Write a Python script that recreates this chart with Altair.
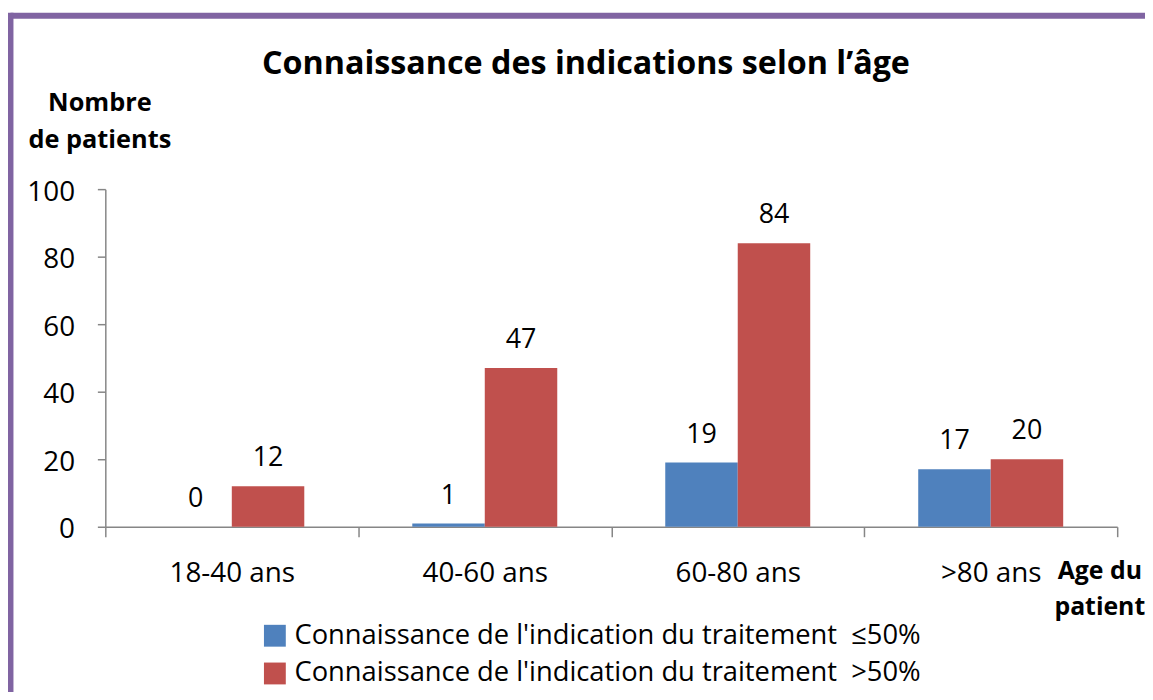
import altair as alt
import pandas as pd

categories = ["18-40 ans", "40-60 ans", "60-80 ans", ">80 ans"]
series = [
    "Connaissance de l'indication du traitement \u00a0≤50%",
    "Connaissance de l'indication du traitement \u00a0>50%",
]
low_values = [0, 1, 19, 17]
high_values = [12, 47, 84, 20]
y_ticks = [0, 20, 40, 60, 80, 100]
colors = ["#4F81BD", "#C0504D"]
title_text = "Connaissance des indications selon l’âge"

rows = []
for c, v in zip(categories, low_values):
    rows.append({"age": c, "serie": series[0], "n": v})
for c, v in zip(categories, high_values):
    rows.append({"age": c, "serie": series[1], "n": v})
df = pd.DataFrame(rows)

FONT = "Open Sans"
W, H = 1019, 340
PAD = {"left": 98, "top": 180, "right": 28, "bottom": 164}

x_enc = alt.X(
    "age:N",
    sort=categories,
    scale=alt.Scale(paddingInner=0, paddingOuter=0),
    axis=alt.Axis(
        title=["Age du", "patient"],
        titleAngle=0,
        titleX=1001,
        titleY=52,
        titleAlign="center",
        titleBaseline="alphabetic",
        titleFontSize=25,
        titleFontWeight="bold",
        titleLineHeight=36,
        titleFont=FONT,
        titleColor="black",
        labelAngle=0,
        labelFont=FONT,
        labelFontSize=28,
        labelColor="black",
        labelBaseline="alphabetic",
        labelPadding=45,
        tickBand="extent",
        tickSize=10,
        tickColor="#868686",
        tickWidth=1.5,
        domainColor="#868686",
        domainWidth=1.5,
    ),
)
xo_enc = alt.XOffset(
    "serie:N", sort=series, scale=alt.Scale(paddingInner=0, paddingOuter=0.745)
)
y_enc = alt.Y(
    "n:Q",
    scale=alt.Scale(domain=[0, 100], nice=False),
    axis=alt.Axis(
        values=y_ticks,
        grid=False,
        title=["Nombre", "de patients"],
        titleAngle=0,
        titleX=-6,
        titleY=-79,
        titleAlign="center",
        titleBaseline="alphabetic",
        titleFontSize=25.5,
        titleFontWeight="bold",
        titleLineHeight=37,
        titleFont=FONT,
        titleColor="black",
        labelFont=FONT,
        labelFontSize=28,
        labelColor="black",
        labelPadding=23,
        labelOffset=3,
        tickSize=8,
        tickColor="#868686",
        tickWidth=1.5,
        domainColor="#868686",
        domainWidth=1.5,
    ),
)

base = alt.Chart(df)
bars = base.mark_bar().encode(
    x=x_enc,
    xOffset=xo_enc,
    y=y_enc,
    color=alt.Color(
        "serie:N",
        sort=series,
        scale=alt.Scale(domain=series, range=colors),
        legend=alt.Legend(
            title=None,
            orient="none",
            legendX=157,
            legendY=436,
            symbolType="square",
            symbolSize=484,
            symbolStrokeWidth=0,
            labelFont=FONT,
            labelFontSize=27.5,
            labelColor="black",
            labelOffset=6,
            rowPadding=9,
            labelLimit=0,
        ),
    ),
)
labels = base.mark_text(
    dy=-20, baseline="alphabetic", fontSize=27, font=FONT, color="black"
).encode(x=x_enc, xOffset=xo_enc, y=y_enc, text="n:Q")

one = alt.Chart(pd.DataFrame({"k": [0]}))
border_top = one.mark_rule(color="#8064A2", strokeWidth=6).encode(
    x=alt.value(-95.5), x2=alt.value(1050), y=alt.value(-174.5)
)
border_left = one.mark_rule(color="#8064A2", strokeWidth=6).encode(
    x=alt.value(-95.5), y=alt.value(-177.5), y2=alt.value(510)
)
title = one.mark_text(
    text=title_text,
    font=FONT,
    fontSize=32.5,
    fontWeight="bold",
    color="black",
    align="center",
    baseline="alphabetic",
).encode(x=alt.value(484), y=alt.value(-116))

chart = (
    alt.layer(border_top, border_left, title, bars, labels)
    .properties(
        width=W,
        height=H,
        autosize=alt.AutoSizeParams(type="none"),
        padding=PAD,
    )
    .configure_view(stroke=None)
)

chart.save("out.html", embed_options={"renderer": "svg", "actions": False})
